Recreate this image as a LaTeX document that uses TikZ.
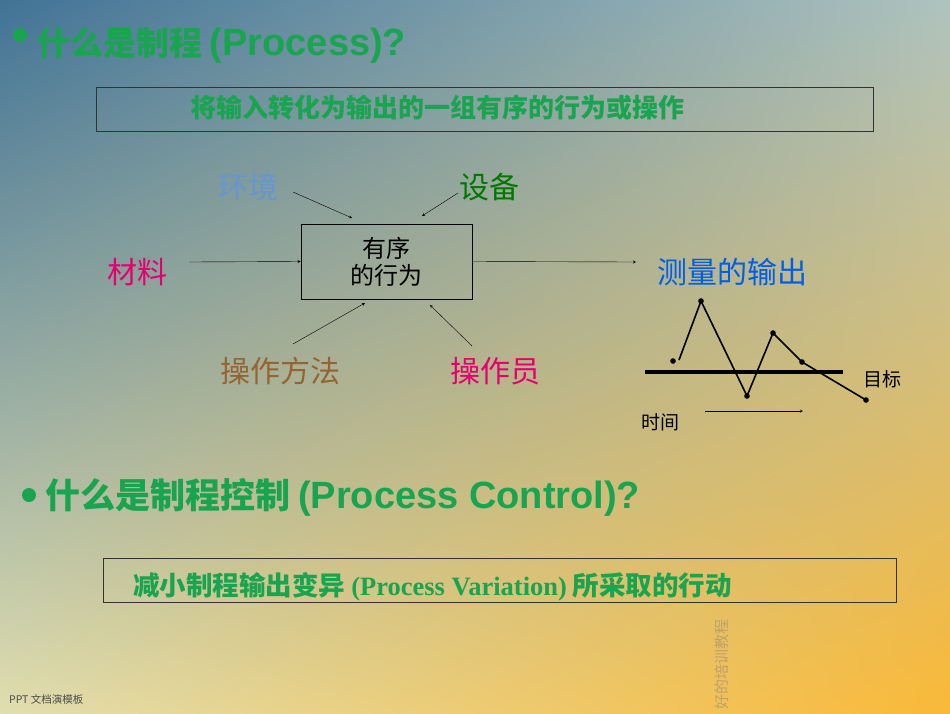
\documentclass[tikz,border=0pt]{standalone}
\usepackage{fontspec}
\usetikzlibrary{shadings}
\setmainfont{Liberation Sans}
\newfontfamily\cjk{Noto Sans CJK SC}
\newfontfamily\tms{Liberation Serif}
\begin{document}
\begin{tikzpicture}[x=1pt,y=-1pt,
  lab/.style={font=\cjk\fontsize{30}{32}\selectfont,inner sep=0pt},
  ttl/.style={font=\bfseries\cjk\fontsize{33}{35}\selectfont,text=tgreen,inner sep=0pt,anchor=west},
  arr/.style={-stealth,thin},
  frame/.style={draw=black!80,line width=0.8pt}]
\definecolor{tgreen}{RGB}{25,165,80}
\definecolor{ul}{RGB}{65,115,150}
\definecolor{ur}{RGB}{175,195,190}
\definecolor{ll}{RGB}{225,222,175}
\definecolor{lr}{RGB}{250,185,55}
\shade[upper left=ul,upper right=ur,lower left=ll,lower right=lr] (0,0) rectangle (950,713);
\useasboundingbox (0,0) rectangle (950,713);
% titles
\fill[tgreen] (20,35) circle (7);
\node[ttl] (t1) at (37,45) {什么是制程 {\fontspec{Liberation Sans}\bfseries\fontsize{38}{40}\selectfont(Process)?}};
\fill[tgreen] (29,495) circle (7);
\node[ttl,font=\bfseries\cjk\fontsize{35}{37}\selectfont] (t2) at (45,497) {什么是制程控制 {\fontspec{Liberation Sans}\bfseries\fontsize{38}{40}\selectfont(Process Control)?}};
% boxes
\draw[frame] (96,87) rectangle (873,131);
\node[font=\bfseries\cjk\fontsize{26}{28}\selectfont,text=tgreen] (d1) at (437,108) {将输入转化为输出的一组有序的行为或操作};
\draw[frame] (103,558) rectangle (896,602);
\node[font=\bfseries\cjk\fontsize{26.5}{28}\selectfont,text=tgreen,anchor=west,inner sep=0pt] (d2) at (133,587) {减小制程输出变异 {\tms\bfseries (Process Variation)} 所采取的行动};
\node[draw=black,line width=0.8pt,minimum width=171pt,minimum height=75pt,align=center,font=\cjk\fontsize{24}{27}\selectfont] (p) at (386.5,261.5) {有序\\的行为};
% labels
\node[lab,text={rgb,255:red,100;green,150;blue,210}] (env) at (248,187) {环境};
\node[lab,text={rgb,255:red,0;green,120;blue,0}] (eq) at (489,187) {设备};
\node[lab,text={rgb,255:red,230;green,0;blue,110}] (mat) at (137,272) {材料};
\node[lab,text={rgb,255:red,0;green,95;blue,230}] (out) at (732,272) {测量的输出};
\node[lab,text={rgb,255:red,150;green,100;blue,50}] (meth) at (280,371) {操作方法};
\node[lab,text={rgb,255:red,230;green,0;blue,110}] (op) at (495,371) {操作员};
% arrows
\coordinate (a1) at (293,192); \coordinate (b1) at (352,218);
\coordinate (a2) at (458,193); \coordinate (b2) at (422,216);
\coordinate (a3) at (189,262); \coordinate (a4) at (636,262);
\coordinate (a5) at (293,344); \coordinate (b5) at (365,303);
\coordinate (a6) at (472,346); \coordinate (b6) at (430,305);
\draw[arr] (a1) -- (b1);
\draw[arr] (a2) -- (b2);
\draw[arr] (a3) -- (p.west);
\draw[arr] (p.east) -- (a4);
\draw[arr] (a5) -- (b5);
\draw[arr] (a6) -- (b6);
% chart
\draw[line width=4pt] (645,372) -- (843,372);
\coordinate (c1) at (673,361); \coordinate (c2) at (701,301); \coordinate (c3) at (747,396);
\coordinate (c4) at (773,333); \coordinate (c5) at (802,362); \coordinate (c6) at (866,400);
\draw[line width=1.6pt] (679,360) -- (c2) -- (c3) -- (c4) -- (c5) -- (c6);
\foreach \c in {c1,c2,c3,c4,c5,c6} \fill (\c) circle (2.8);
\node[font=\cjk\fontsize{19}{20}\selectfont] (tgt) at (882,379) {目标};
\node[font=\cjk\fontsize{19}{20}\selectfont] (tm) at (660,422) {时间};
\coordinate (t0) at (705,411); \coordinate (t1e) at (803,411);
\draw[arr] (t0) -- (t1e);
% footer
\node[font=\cjk\fontsize{10.5}{12}\selectfont,text=black!70,anchor=west,inner sep=0pt] (ft) at (9,699) {PPT 文档演模板};
\node[font=\cjk\fontsize{15}{17}\selectfont,text={rgb,255:red,190;green,160;blue,110},rotate=90,anchor=east,inner sep=0pt] (vt) at (722,619) {好的培训教程};
\end{tikzpicture}
\end{document}
